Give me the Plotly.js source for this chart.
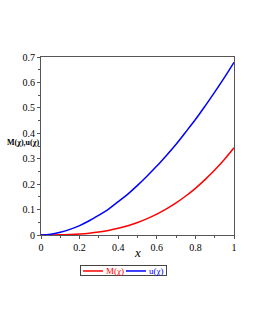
<!DOCTYPE html>
<html>
<head>
<script src="https://cdn.plot.ly/plotly-3.0.1.min.js"></script>
<style>html,body{margin:0;padding:0;background:#fff;}</style>
</head>
<body>
<div id="chart" style="width:255px;height:330px;"></div>
<script>
const xs = [0,0.05,0.1,0.15,0.2,0.25,0.3,0.35,0.4,0.45,0.5,0.55,0.6,0.65,0.7,0.75,0.8,0.85,0.9,0.95,1.0];
const uVals = [0,0.003,0.011,0.022,0.037,0.056,0.078,0.102,0.131,0.161,0.195,0.232,0.271,0.313,0.357,0.405,0.454,0.507,0.562,0.619,0.679];
const mVals = [0,0.0001,0.0005,0.0017,0.0038,0.0071,0.0118,0.0181,0.0264,0.0367,0.0493,0.0643,0.0821,0.1027,0.1263,0.1533,0.1836,0.2176,0.2554,0.2971,0.343];
const xTicks = [0,0.2,0.4,0.6,0.8,1];
const xTickText = ['0','0.2','0.4','0.6','0.8','1'];
const yTicks = [0,0.1,0.2,0.3,0.4,0.5,0.6,0.7];
const yTickText = ['0','0.1','0.2','0.3','0.4','0.5','0.6','0.7'];

const serif = '"Liberation Serif", "Times New Roman", serif';
const traces = [
  {x: xs, y: mVals, mode: 'lines', line: {color: '#ff0000', width: 1.5, shape: 'spline'},
   name: '<span style="color:#ff0000">M(χ)</span>'},
  {x: xs, y: uVals, mode: 'lines', line: {color: '#0000ff', width: 1.5, shape: 'spline'},
   name: '<span style="color:#0000ff">u(χ)</span>'}
];
const axisCommon = {
  showline: true, linecolor: '#555', linewidth: 1, mirror: true,
  showgrid: false, zeroline: false, ticks: 'outside', ticklen: 3, tickcolor: '#555',
  tickfont: {family: serif, size: 10, color: '#000'}
};
const layout = {
  width: 255, height: 330,
  margin: {l: 41, r: 21, t: 57, b: 95},
  paper_bgcolor: '#fff', plot_bgcolor: '#fff',
  showlegend: true,
  legend: {orientation: 'h', x: 0.207, xanchor: 'left', y: -0.174, yanchor: 'top',
    bordercolor: '#444', borderwidth: 1, font: {family: serif, size: 9}},
  xaxis: Object.assign({}, axisCommon, {range: [0, 1], tickvals: xTicks, ticktext: xTickText,
    minor: {dtick: 0.1, ticks: 'outside', ticklen: 2, tickcolor: '#555'}}),
  yaxis: Object.assign({}, axisCommon, {range: [0, 0.7], tickvals: yTicks, ticktext: yTickText,
    minor: {dtick: 0.05, ticks: 'outside', ticklen: 2, tickcolor: '#555'}}),
  annotations: [{
    text: '<b>M(χ),u(χ)</b>', xref: 'paper', yref: 'y', x: 0, y: 0.365,
    xanchor: 'right', yanchor: 'middle', showarrow: false,
    font: {family: serif, size: 8, color: '#000'}
  }, {
    text: '<i>x</i>', xref: 'paper', yref: 'paper', x: 0.5, y: -0.101,
    xanchor: 'center', yanchor: 'middle', showarrow: false,
    font: {family: serif, size: 13, color: '#000'}
  }]
};
const gd = document.getElementById('chart');
Plotly.newPlot(gd, traces, layout, {displayModeBar: false, staticPlot: true}).then(function () {
  const leg = gd.querySelector('.legend');
  if (!leg) return;
  const items = leg.querySelectorAll('.traces');
  const starts = [2, 45];
  items.forEach(function (it, i) {
    const p = it.querySelector('.legendlines path');
    if (p) p.setAttribute('d', 'M0,0h20');
    const t = it.querySelector('.legendtext');
    if (t) t.setAttribute('x', 23);
    it.setAttribute('transform', 'translate(' + starts[i] + ',5)');
  });
  const bg = leg.querySelector('rect.bg');
  if (bg) { bg.setAttribute('width', 86); bg.setAttribute('height', 10); bg.setAttribute('x', 0); bg.setAttribute('y', 0); }
});
</script>
</body>
</html>
